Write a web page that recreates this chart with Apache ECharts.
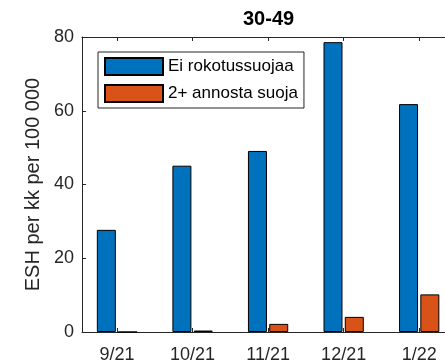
<!DOCTYPE html>
<html>
<head>
<meta charset="utf-8">
<script src="https://cdn.jsdelivr.net/npm/echarts@6/dist/echarts.min.js"></script>
<style>
html,body{margin:0;padding:0;background:#fff;}
#c{width:445px;height:364px;}
</style>
</head>
<body>
<div id="c"></div>
<script>
const categories = ['9/21', '10/21', '11/21', '12/21', '1/22'];
const seriesNames = ['Ei rokotussuojaa', '2+ annosta suoja'];
const unvaccinated = [27.7, 45.1, 49.1, 78.6, 61.8];
const vaccinated = [0, 0.4, 2.2, 4.1, 10.2];
const yTicks = [0, 20, 40, 60, 80];
const titleText = '30-49';
const yName = 'ESH per kk per 100 000';

const positions = categories.map((c, i) => i + 1);
const FONT = "'Liberation Sans', Arial, Helvetica, sans-serif";
const AX = '#262626';

const chart = echarts.init(document.getElementById('c'), null, {renderer: 'canvas'});

const xBase = {
  type: 'value',
  min: 0.537,
  max: 5.54,
  splitLine: {show: false},
  axisLine: {show: true, lineStyle: {color: AX, width: 1}},
  axisTick: {show: true, inside: true, length: 4, customValues: positions, lineStyle: {color: AX}},
};

chart.setOption({
  animation: false,
  backgroundColor: '#fff',
  title: {
    text: titleText,
    left: 243,
    top: 9,
    padding: 0,
    textStyle: {fontFamily: FONT, fontSize: 20, fontWeight: 'bold', color: '#000'}
  },
  legend: {
    orient: 'vertical',
    left: 98,
    top: 52,
    padding: [5, 6, 5, 6],
    itemWidth: 58,
    itemHeight: 17,
    itemGap: 8,
    backgroundColor: '#fff',
    borderColor: '#262626',
    borderWidth: 1,
    borderRadius: 0,
    icon: 'rect',
    textStyle: {fontFamily: FONT, fontSize: 17, color: '#000', lineHeight: 17},
    data: seriesNames
  },
  grid: {left: 82, top: 37, width: 378, bottom: 32, containLabel: false, outerBoundsMode: 'none'},
  xAxis: [
    Object.assign({}, xBase, {
      position: 'bottom',
      axisLabel: {
        show: true,
        customValues: positions,
        margin: 14,
        fontFamily: FONT,
        fontSize: 18,
        color: AX,
        formatter: v => categories[Math.round(v) - 1] || ''
      }
    }),
    Object.assign({}, xBase, {
      position: 'top',
      axisLabel: {show: false}
    })
  ],
  yAxis: {
    type: 'value',
    min: 0,
    max: 80,
    interval: 20,
    name: yName,
    nameLocation: 'middle',
    nameGap: 38,
    nameTextStyle: {fontFamily: FONT, fontSize: 20, color: AX},
    splitLine: {show: false},
    axisLine: {show: true, lineStyle: {color: AX, width: 1}},
    axisTick: {show: true, inside: true, length: 4, lineStyle: {color: AX}},
    axisLabel: {margin: 8, fontFamily: FONT, fontSize: 18, color: AX,
      customValues: yTicks}
  },
  series: [
    {
      name: seriesNames[0],
      type: 'bar',
      xAxisIndex: 0,
      barWidth: 19,
      barGap: '12%',
      itemStyle: {color: '#0072BD', borderColor: '#000', borderWidth: 1},
      data: positions.map((p, i) => [p, unvaccinated[i]])
    },
    {
      name: seriesNames[1],
      type: 'bar',
      xAxisIndex: 0,
      barWidth: 19,
      barGap: '12%',
      itemStyle: {color: '#D95319', borderColor: '#000', borderWidth: 1},
      data: positions.map((p, i) => [p, vaccinated[i]])
    }
  ]
});
</script>
</body>
</html>
